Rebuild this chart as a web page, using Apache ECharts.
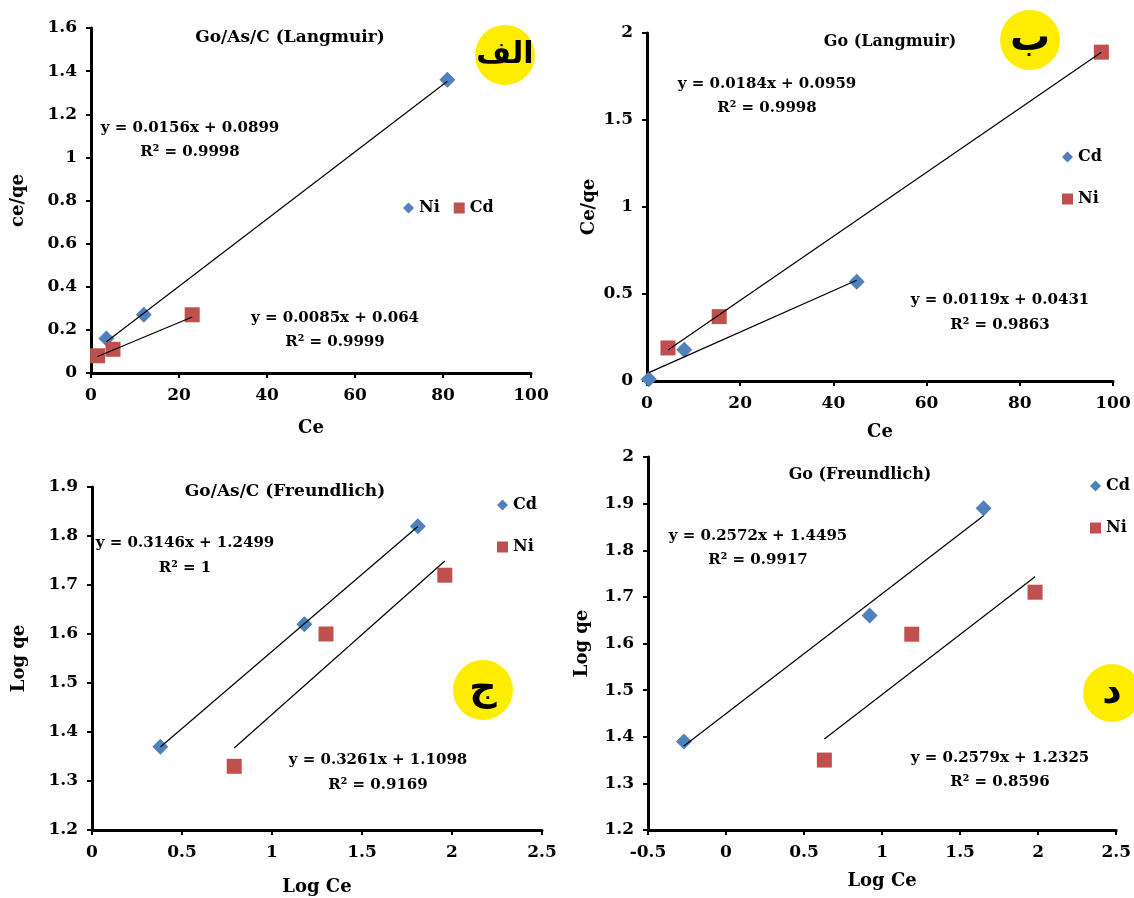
<!DOCTYPE html>
<html><head><meta charset="utf-8">
<script src="https://cdn.jsdelivr.net/npm/echarts@6/dist/echarts.min.js"></script>
<style>html,body{margin:0;padding:0;background:#fff}#c{width:1134px;height:898px}</style>
</head><body><div id="c"></div>
<script>
// ---- Panel A: Go/As/C (Langmuir) ----
const aNiCe = [3.5, 12, 81];
const aNiCeQe = [0.16, 0.27, 1.36];
const aCdCe = [1.5, 5, 23];
const aCdCeQe = [0.08, 0.11, 0.27];
const aFitNi = [0.0156, 0.0899];
const aFitCd = [0.0085, 0.064];
// ---- Panel B: Go (Langmuir) ----
const bCdCe = [0.4, 8, 45];
const bCdCeQe = [0.01, 0.18, 0.57];
const bNiCe = [4.5, 15.5, 97.5];
const bNiCeQe = [0.19, 0.37, 1.89];
const bFitNi = [0.0184, 0.0959];
const bFitCd = [0.0119, 0.0431];
// ---- Panel C: Go/As/C (Freundlich) ----
const cCdLogCe = [0.38, 1.18, 1.81];
const cCdLogQe = [1.37, 1.62, 1.82];
const cNiLogCe = [0.79, 1.30, 1.96];
const cNiLogQe = [1.33, 1.60, 1.72];
const cFitCd = [0.3146, 1.2499];
const cFitNi = [0.3261, 1.1098];
// ---- Panel D: Go (Freundlich) ----
const dCdLogCe = [-0.27, 0.92, 1.65];
const dCdLogQe = [1.39, 1.66, 1.89];
const dNiLogCe = [0.63, 1.19, 1.98];
const dNiLogQe = [1.35, 1.62, 1.71];
const dFitCd = [0.2572, 1.4495];
const dFitNi = [0.2579, 1.2325];

const BLUE = '#4F81BD', RED = '#C0504D';
const FF = 'DejaVu Serif';

function pts(xs, ys) { return xs.map((x, i) => [x, ys[i]]); }
function fitLine(xs, fit) {
  const lo = Math.min(...xs), hi = Math.max(...xs);
  return [[lo, fit[0] * lo + fit[1]], [hi, fit[0] * hi + fit[1]]];
}

const grids = [
  {left: 91, top: 28, width: 440, height: 345},
  {left: 647, top: 33, width: 466, height: 348},
  {left: 92, top: 487, width: 450, height: 343},
  {left: 648, top: 457, width: 473, height: 373}
];
const xSpec = [[0, 100, 20, 'Ce'], [0, 100, 20, 'Ce'], [0, 2.5, 0.5, 'Log Ce'], [-0.5, 2.5, 0.5, 'Log Ce']];
const ySpec = [[0, 1.6, 0.2, 'ce/qe'], [0, 2, 0.5, 'Ce/qe'], [1.2, 1.9, 0.1, 'Log qe'], [1.2, 2, 0.1, 'Log qe']];
const xGap = [46, 42, 48, 42];
const yGap = [64, 49, 64, 57];

const axisCommon = {
  axisLine: {onZero: false, lineStyle: {color: '#000', width: 3}},
  axisTick: {show: true, inside: false, length: 5, lineStyle: {color: '#000', width: 2}},
  splitLine: {show: false},
  axisLabel: {color: '#000', fontFamily: FF, fontWeight: 'bold', fontSize: 17},
  nameLocation: 'middle',
  nameTextStyle: {color: '#000', fontFamily: FF, fontWeight: 'bold', fontSize: 18}
};

const xAxis = xSpec.map((s, i) => Object.assign({}, axisCommon, {
  type: 'value', gridIndex: i, min: s[0], max: s[1], interval: s[2], name: s[3], nameGap: xGap[i],
  axisLabel: Object.assign({}, axisCommon.axisLabel, {margin: 14})
}));
const yAxis = ySpec.map((s, i) => Object.assign({}, axisCommon, {
  type: 'value', gridIndex: i, min: s[0], max: s[1], interval: s[2], name: s[3], nameGap: yGap[i], nameRotate: 90,
  axisLabel: Object.assign({}, axisCommon.axisLabel, {margin: 14})
}));

function scatter(name, idx, data, color, symbol) {
  return {type: 'scatter', name: name, xAxisIndex: idx, yAxisIndex: idx, data: data,
    symbol: symbol, symbolSize: symbol === 'diamond' ? 16 : 15,
    itemStyle: {color: color, opacity: 1}, z: 2};
}
function trend(idx, xs, fit) {
  return {type: 'line', xAxisIndex: idx, yAxisIndex: idx, data: fitLine(xs, fit), symbol: 'none',
    lineStyle: {color: '#000', width: 1.2}, z: 3, silent: true};
}

const series = [
  scatter('Ni_A', 0, pts(aNiCe, aNiCeQe), BLUE, 'diamond'),
  scatter('Cd_A', 0, pts(aCdCe, aCdCeQe), RED, 'rect'),
  trend(0, aNiCe, aFitNi), trend(0, aCdCe, aFitCd),
  scatter('Cd_B', 1, pts(bCdCe, bCdCeQe), BLUE, 'diamond'),
  scatter('Ni_B', 1, pts(bNiCe, bNiCeQe), RED, 'rect'),
  trend(1, bNiCe, bFitNi), trend(1, bCdCe, bFitCd),
  scatter('Cd_C', 2, pts(cCdLogCe, cCdLogQe), BLUE, 'diamond'),
  scatter('Ni_C', 2, pts(cNiLogCe, cNiLogQe), RED, 'rect'),
  trend(2, cCdLogCe, cFitCd), trend(2, cNiLogCe, cFitNi),
  scatter('Cd_D', 3, pts(dCdLogCe, dCdLogQe), BLUE, 'diamond'),
  scatter('Ni_D', 3, pts(dNiLogCe, dNiLogQe), RED, 'rect'),
  trend(3, dCdLogCe, dFitCd), trend(3, dNiLogCe, dFitNi)
];

const legText = {color: '#000', fontFamily: FF, fontWeight: 'bold', fontSize: 16};
function leg(names, icons, left, top, orient, gap) {
  return {data: names.map((n, i) => ({name: n, icon: icons[i]})), left: left, top: top, orient: orient,
    itemGap: gap, itemWidth: 11, itemHeight: 11, textStyle: legText, selectedMode: false,
    formatter: n => n.split('_')[0], padding: 0};
}
const legend = [
  leg(['Ni_A', 'Cd_A'], ['diamond', 'rect'], 403, 200, 'horizontal', 14),
  leg(['Cd_B', 'Ni_B'], ['diamond', 'rect'], 1062, 149, 'vertical', 26),
  leg(['Cd_C', 'Ni_C'], ['diamond', 'rect'], 497, 497, 'vertical', 26),
  leg(['Cd_D', 'Ni_D'], ['diamond', 'rect'], 1090, 478, 'vertical', 26)
];

function txt(t, x, y, size) {
  return {type: 'text', x: x, y: y, z: 10,
    style: {text: t, fill: '#000', font: 'bold ' + (size || 15) + 'px "' + FF + '"', align: 'center', verticalAlign: 'middle'}};
}
function badge(t, x, y, r, size) {
  return [
    {type: 'circle', shape: {cx: x, cy: y, r: r}, style: {fill: '#FFED00'}, z: 9},
    {type: 'text', x: x, y: y, z: 10,
      style: {text: t, fill: '#000', font: 'bold ' + (size || 32) + 'px "DejaVu Sans"', align: 'center', verticalAlign: 'middle'}}
  ];
}

const graphic = [
  txt('Go/As/C (Langmuir)', 290, 38, 17),
  txt('y = 0.0156x + 0.0899', 190, 128), txt('R² = 0.9998', 190, 152),
  txt('y = 0.0085x + 0.064', 335, 318), txt('R² = 0.9999', 335, 342),
  ...badge('الف', 505, 55, 30, 30),
  txt('Go (Langmuir)', 890, 42, 16),
  txt('y = 0.0184x + 0.0959', 767, 84), txt('R² = 0.9998', 767, 108),
  txt('y = 0.0119x + 0.0431', 1000, 300), txt('R² = 0.9863', 1000, 325),
  ...badge('ب', 1030, 40, 30, 40),
  txt('Go/As/C (Freundlich)', 285, 492, 17),
  txt('y = 0.3146x + 1.2499', 185, 543), txt('R² = 1', 185, 568),
  txt('y = 0.3261x + 1.1098', 378, 760), txt('R² = 0.9169', 378, 785),
  ...badge('ج', 483, 690, 30, 38),
  txt('Go (Freundlich)', 860, 475, 16),
  txt('y = 0.2572x + 1.4495', 758, 536), txt('R² = 0.9917', 758, 560),
  txt('y = 0.2579x + 1.2325', 1000, 758), txt('R² = 0.8596', 1000, 782),
  ...badge('د', 1112, 693, 29, 38)
];

const chart = echarts.init(document.getElementById('c'));
chart.setOption({
  animation: false,
  backgroundColor: '#fff',
  grid: grids, xAxis: xAxis, yAxis: yAxis, series: series, legend: legend, graphic: graphic
});
</script>
</body></html>
